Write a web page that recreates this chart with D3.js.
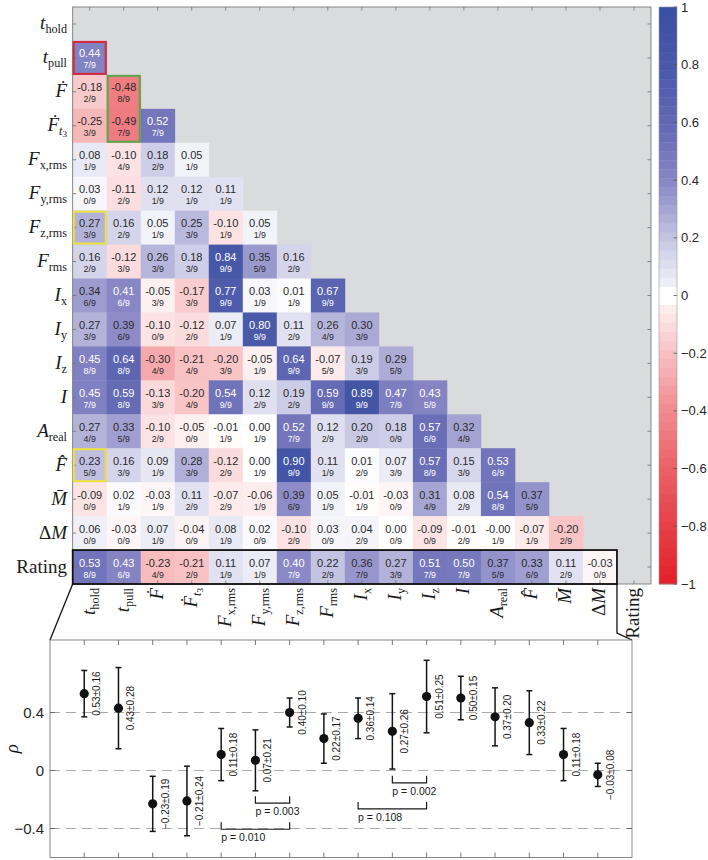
<!DOCTYPE html>
<html><head><meta charset="utf-8">
<script src="https://cdn.jsdelivr.net/npm/d3@7"></script>
<style>body{margin:0;background:#fff}svg{display:block}</style>
</head><body>
<svg id="c" width="708" height="860"></svg>
<script>
// ---------------- DATA ----------------
const varLabels = [
  {base:"t", sub:"hold"},
  {base:"t", sub:"pull"},
  {base:"F", acc:"dot"},
  {base:"F", acc:"dot", sub:"t", subItalic:true, subsub:"3"},
  {base:"F", sub:"x,rms"},
  {base:"F", sub:"y,rms"},
  {base:"F", sub:"z,rms"},
  {base:"F", sub:"rms"},
  {base:"I", sub:"x"},
  {base:"I", sub:"y"},
  {base:"I", sub:"z"},
  {base:"I"},
  {base:"A", sub:"real"},
  {base:"F", acc:"hat"},
  {base:"M", acc:"bar"},
  {pre:"\u0394", base:"M"},
  {plain:"Rating"}
];
const rhoText = [
  [],
  ["0.44"],
  ["-0.18","-0.48"],
  ["-0.25","-0.49","0.52"],
  ["0.08","-0.10","0.18","0.05"],
  ["0.03","-0.11","0.12","0.12","0.11"],
  ["0.27","0.16","0.05","0.25","-0.10","0.05"],
  ["0.16","-0.12","0.26","0.18","0.84","0.35","0.16"],
  ["0.34","0.41","-0.05","-0.17","0.77","0.03","0.01","0.67"],
  ["0.27","0.39","-0.10","-0.12","0.07","0.80","0.11","0.26","0.30"],
  ["0.45","0.64","-0.30","-0.21","-0.20","-0.05","0.64","-0.07","0.19","0.29"],
  ["0.45","0.59","-0.13","-0.20","0.54","0.12","0.19","0.59","0.89","0.47","0.43"],
  ["0.27","0.33","-0.10","-0.05","-0.01","0.00","0.52","0.12","0.20","0.18","0.57","0.32"],
  ["0.23","0.16","0.09","0.28","-0.12","0.00","0.90","0.11","0.01","0.07","0.57","0.15","0.53"],
  ["-0.09","0.02","-0.03","0.11","-0.07","-0.06","0.39","0.05","-0.01","-0.03","0.31","0.08","0.54","0.37"],
  ["0.06","-0.03","0.07","-0.04","0.08","0.02","-0.10","0.03","0.04","0.00","-0.09","-0.01","-0.00","-0.07","-0.20"],
  ["0.53","0.43","-0.23","-0.21","0.11","0.07","0.40","0.22","0.36","0.27","0.51","0.50","0.37","0.33","0.11","-0.03"]
];
const sigCount = [
  [],
  [7],
  [2,8],
  [3,7,7],
  [1,4,2,1],
  [0,2,1,1,1],
  [3,2,1,3,1,1],
  [2,3,3,3,9,5,2],
  [6,6,3,3,9,1,1,9],
  [3,6,0,2,1,9,2,4,3],
  [8,8,4,4,3,1,9,5,3,5],
  [7,8,3,4,9,2,2,9,9,7,5],
  [4,5,2,0,1,1,7,2,2,0,6,4],
  [5,3,1,3,2,1,9,1,2,3,8,3,6],
  [0,1,1,2,2,1,6,1,1,0,4,2,8,5],
  [0,0,1,0,1,0,2,0,2,0,0,2,1,1,2],
  [8,6,4,2,1,1,7,2,7,3,7,7,5,6,2,0]
];
const nSubjects = 9;
const highlightRow = [1, 2, 6, 13];
const highlightCol = [0, 1, 0, 0];
const highlightSpan = [1, 2, 1, 1];
const highlightColor = ["#d8283a", "#58a94e", "#f0e23c", "#f0e23c"];

const colorbarTicks = [1,0.8,0.6,0.4,0.2,0,-0.2,-0.4,-0.6,-0.8,-1];
const cmapStops = [-1,-0.8,-0.6,-0.4,-0.2,0,0.2,0.4,0.6,0.8,1];
const cmapColors = ["#e3222b","#e6434a","#eb6469","#f18e92","#f8c4c6","#ffffff","#c9c9e5","#8a89c6","#6369b4","#4a5aa9","#3a50a2"];

const ratingMean = [0.53,0.43,-0.23,-0.21,0.11,0.07,0.40,0.22,0.36,0.27,0.51,0.50,0.37,0.33,0.11,-0.03];
const ratingSd   = [0.16,0.28,0.19,0.24,0.18,0.21,0.10,0.17,0.14,0.26,0.25,0.15,0.20,0.22,0.18,0.08];
const panelYTicks = [0.4, 0, -0.4];
const pairFrom = [5, 4, 9, 8];
const pairTo   = [6, 6, 10, 10];
const pValue   = ["0.003","0.010","0.002","0.108"];
const pairLevel = [-0.225, -0.405, -0.085, -0.265];

// ---------------- DRAW ----------------
const SANS = "'Liberation Sans', Arial, Helvetica, sans-serif";
const SERIF = "'Liberation Serif', 'Times New Roman', serif";
const svg = d3.select("#c");
const n = varLabels.length;
const M = {left:72.7, right:651, top:7, bottom:584};
const xb = d3.scaleBand().domain(d3.range(n)).range([M.left, M.right]);
const yb = d3.scaleBand().domain(d3.range(n)).range([M.top, M.bottom]);
const bw = xb.bandwidth(), bh = yb.bandwidth();
const color = d3.scaleLinear().domain(cmapStops).range(cmapColors).clamp(true);

function rich(text, spec, size) {
  const s1 = size*0.64, s2 = size*0.48;
  if (spec.plain) { text.append("tspan").attr("font-style","normal").text(spec.plain); return; }
  if (spec.pre) text.append("tspan").attr("font-style","normal").text(spec.pre);
  const acc = {dot:"\u0307", hat:"\u0302", bar:"\u0304"}[spec.acc] || "";
  text.append("tspan").attr("font-style","italic").text(spec.base + acc);
  if (spec.sub) {
    text.append("tspan").attr("font-size", s1).attr("font-style", spec.subItalic ? "italic" : "normal")
      .attr("dy", size*0.2).text(spec.sub);
    if (spec.subsub) text.append("tspan").attr("font-size", s2).attr("font-style","normal")
      .attr("dy", size*0.12).text(spec.subsub);
  }
}

// background
svg.append("rect").attr("x", M.left).attr("y", M.top).attr("width", M.right-M.left).attr("height", M.bottom-M.top)
  .attr("fill", "#dadbdd");

const cells = [];
rhoText.forEach((row,i)=>row.forEach((s,j)=>cells.push({i, j, s, v:+s, k:sigCount[i][j]})));

const gc = svg.append("g");
gc.selectAll("rect").data(cells).join("rect")
  .attr("x", d=>xb(d.j)).attr("y", d=>yb(d.i))
  .attr("width", bw+0.4).attr("height", bh+0.4)
  .attr("fill", d=>color(d.v));
gc.selectAll("text.v").data(cells).join("text").attr("class","v")
  .attr("x", d=>xb(d.j)+bw/2).attr("y", d=>yb(d.i)+16.5)
  .attr("text-anchor","middle").attr("font-family", SANS).attr("font-size", 11)
  .attr("fill", d=>d.v>=0.4 ? "#ffffff" : "#2a2a2a").text(d=>d.s);
gc.selectAll("text.f").data(cells).join("text").attr("class","f")
  .attr("x", d=>xb(d.j)+bw/2).attr("y", d=>yb(d.i)+27.5)
  .attr("text-anchor","middle").attr("font-family", SANS).attr("font-size", 8.8)
  .attr("fill", d=>d.v>=0.4 ? "#ffffff" : "#2a2a2a").text(d=>d.k + "/" + nSubjects);

// axes frame + ticks
const ga = svg.append("g").attr("stroke", "#6e6e6e").attr("stroke-width", 0.8);
ga.append("rect").attr("x", M.left).attr("y", M.top).attr("width", M.right-M.left).attr("height", M.bottom-M.top).attr("fill","none");
d3.range(n).forEach(k=>{
  const cx = xb(k)+bw/2, cy = yb(k)+bh/2, t = 3.5;
  ga.append("line").attr("x1", M.left).attr("x2", M.left+t).attr("y1", cy).attr("y2", cy);
  ga.append("line").attr("x1", M.right-t).attr("x2", M.right).attr("y1", cy).attr("y2", cy);
  ga.append("line").attr("x1", cx).attr("x2", cx).attr("y1", M.top).attr("y2", M.top+t);
  ga.append("line").attr("x1", cx).attr("x2", cx).attr("y1", M.bottom-t).attr("y2", M.bottom);
});

// highlight boxes
highlightRow.forEach((r,k)=>{
  svg.append("rect").attr("x", xb(highlightCol[k])+1).attr("y", yb(r)+1)
    .attr("width", bw-2).attr("height", bh*highlightSpan[k]-2)
    .attr("fill","none").attr("stroke", highlightColor[k]).attr("stroke-width", 2);
});

// Rating row box
svg.append("rect").attr("x", xb(0)).attr("y", yb(n-1)).attr("width", xb(n-1)-xb(0)).attr("height", bh)
  .attr("fill","none").attr("stroke","#111").attr("stroke-width", 1.8);

// row labels
varLabels.forEach((spec,i)=>{
  const t = svg.append("text").attr("x", 67).attr("y", yb(i)+bh/2+5.5)
    .attr("text-anchor","end").attr("font-family", SERIF).attr("font-size", 19).attr("fill","#1a1a1a");
  rich(t, spec, 19);
});
// column labels
varLabels.forEach((spec,j)=>{
  const t = svg.append("text").attr("transform", `translate(${xb(j)+bw/2+5},${M.bottom+4}) rotate(-90)`)
    .attr("text-anchor","end").attr("font-family", SERIF).attr("font-size", 19).attr("fill","#1a1a1a");
  rich(t, spec, 19);
});

// colorbar
const CB = {x:659, w:18};
const cy = d3.scaleLinear().domain([-1,1]).range([M.bottom, M.top]);
const nb = 64;
const bands = d3.range(nb).map(b=>({lo:-1+2*b/nb, hi:-1+2*(b+1)/nb}));
svg.append("g").selectAll("rect").data(bands).join("rect")
  .attr("x", CB.x).attr("width", CB.w)
  .attr("y", d=>cy(d.hi)).attr("height", d=>cy(d.lo)-cy(d.hi)+0.4)
  .attr("fill", d=>{ const m=(d.lo+d.hi)/2; return color(Math.abs(m)<0.04?0:(m>0?d.hi:d.lo)); });
svg.append("rect").attr("x", CB.x).attr("y", M.top).attr("width", CB.w).attr("height", M.bottom-M.top)
  .attr("fill","none").attr("stroke","#9a9a9a").attr("stroke-width",0.6);
const gcb = svg.append("g");
colorbarTicks.forEach(v=>{
  gcb.append("line").attr("x1", CB.x+CB.w-3.5).attr("x2", CB.x+CB.w).attr("y1", cy(v)).attr("y2", cy(v))
    .attr("stroke","#555").attr("stroke-width",0.8);
  gcb.append("text").attr("x", CB.x+CB.w+4).attr("y", cy(v)).attr("dy","0.35em")
    .attr("font-family", SANS).attr("font-size", 13).attr("fill","#262626").text(d3.format("")(v));
});

// connector lines
svg.append("path").attr("d", `M${M.left},${M.bottom} L50,640`).attr("stroke","#111").attr("stroke-width",1.3).attr("fill","none");
svg.append("path").attr("d", `M${xb(n-1)},${M.bottom} L${xb(n-1)},633 L632,640`).attr("stroke","#111").attr("stroke-width",1.3).attr("fill","none");

// ---------------- lower panel ----------------
const P = {left:50, right:632, top:640, bottom:857.5};
const px = d3.scaleLinear().domain([0, ratingMean.length+1]).range([P.left, P.right]);
const py = d3.scaleLinear().domain([-0.6, 0.9]).range([P.bottom, P.top]);
const gp = svg.append("g");
panelYTicks.forEach(v=>{
  gp.append("line").attr("x1", P.left).attr("x2", P.right).attr("y1", py(v)).attr("y2", py(v))
    .attr("stroke","#a0a0a0").attr("stroke-width",0.9).attr("stroke-dasharray","10,6");
  gp.append("text").attr("x", 44).attr("y", py(v)).attr("dy","0.35em").attr("text-anchor","end")
    .attr("font-family", SANS).attr("font-size", 15).attr("fill","#262626").text(d3.format("")(v));
  gp.append("line").attr("x1", P.left).attr("x2", P.left+5).attr("y1", py(v)).attr("y2", py(v)).attr("stroke","#555").attr("stroke-width",0.8);
  gp.append("line").attr("x1", P.right-5).attr("x2", P.right).attr("y1", py(v)).attr("y2", py(v)).attr("stroke","#555").attr("stroke-width",0.8);
});
ratingMean.forEach((m,i)=>{
  const x = px(i+1);
  gp.append("line").attr("x1", x).attr("x2", x).attr("y1", P.top).attr("y2", P.top+5).attr("stroke","#555").attr("stroke-width",0.8);
  gp.append("line").attr("x1", x).attr("x2", x).attr("y1", P.bottom-5).attr("y2", P.bottom).attr("stroke","#555").attr("stroke-width",0.8);
});
gp.append("rect").attr("x", P.left).attr("y", P.top).attr("width", P.right-P.left).attr("height", P.bottom-P.top)
  .attr("fill","none").attr("stroke","#7a7a7a").attr("stroke-width",0.9);
gp.append("text").attr("transform", `translate(18,${py(0.15)}) rotate(-90)`).attr("text-anchor","middle")
  .attr("font-family", SERIF).attr("font-style","italic").attr("font-size", 19).attr("fill","#1a1a1a").text("\u03c1");

const eb = gp.append("g").attr("stroke","#151515").attr("stroke-width",1.5);
ratingMean.forEach((m,i)=>{
  const x = px(i+1), s = ratingSd[i];
  eb.append("line").attr("x1", x).attr("x2", x).attr("y1", py(m-s)).attr("y2", py(m+s));
  eb.append("line").attr("x1", x-3).attr("x2", x+3).attr("y1", py(m-s)).attr("y2", py(m-s));
  eb.append("line").attr("x1", x-3).attr("x2", x+3).attr("y1", py(m+s)).attr("y2", py(m+s));
  gp.append("circle").attr("cx", x).attr("cy", py(m)).attr("r", 4.6).attr("fill","#111");
  gp.append("text").attr("transform", `translate(${x+12.5},${py(m)}) rotate(-90)`)
    .attr("text-anchor","middle").attr("dy","0.35em").attr("font-family", SANS).attr("font-size", 10)
    .attr("fill","#1a1a1a").text(d3.format(".2f")(m) + "\u00b1" + d3.format(".2f")(s));
});
pairFrom.forEach((a,k)=>{
  const x1 = px(a+1), x2 = px(pairTo[k]+1), y = py(pairLevel[k]);
  gp.append("path").attr("d", `M${x1},${y-7} V${y} H${x2} V${y-7}`).attr("fill","none")
    .attr("stroke","#1a1a1a").attr("stroke-width",1.2);
  gp.append("text").attr("x", x1).attr("y", y+12).attr("font-family", SANS).attr("font-size", 10.5)
    .attr("fill","#1a1a1a").text("p = " + pValue[k]);
});
</script>
</body></html>
